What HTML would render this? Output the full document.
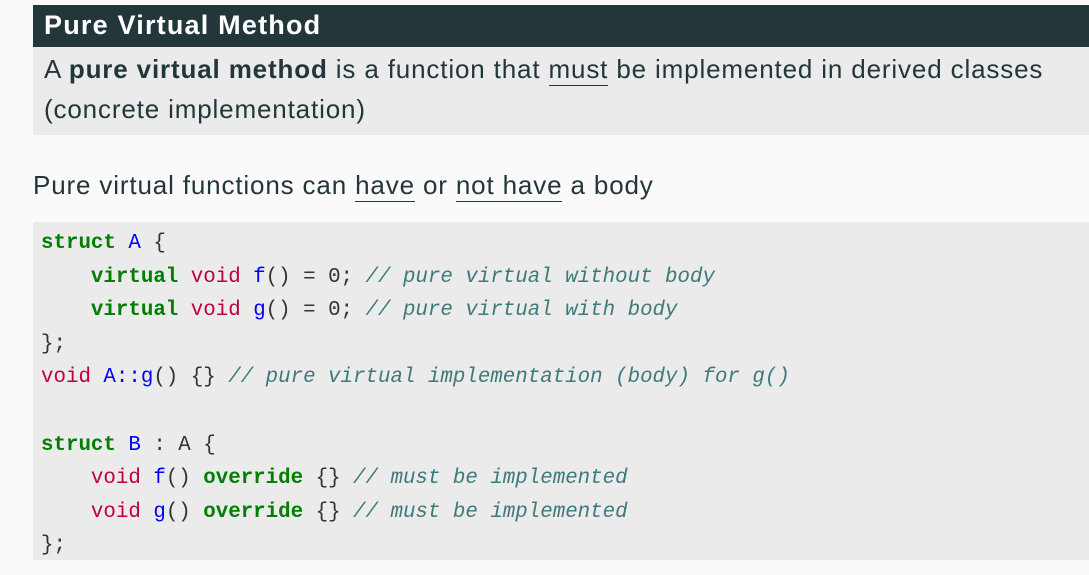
<!DOCTYPE html>
<html><head><meta charset="utf-8"><style>
body{margin:0;width:1089px;height:575px;background:#fafafa;position:relative;overflow:hidden;font-family:"Liberation Sans",sans-serif;color:#23373b}
.hd{position:absolute;left:33px;top:5px;width:1056px;height:42px;background:#23373b;color:#fff;font-size:27px;line-height:40px;text-indent:11px;letter-spacing:1.2px;font-weight:bold}
.bx{position:absolute;left:33px;top:47px;width:1056px;height:88px;background:#ebebeb;font-size:26px;line-height:40px;padding-left:11px;box-sizing:border-box;padding-top:2px;letter-spacing:0.85px;white-space:nowrap}
.p{position:absolute;left:33px;top:170px;font-size:26px;letter-spacing:0.85px}
u{text-decoration:none;border-bottom:1.5px solid #23373b;padding-bottom:1px}
.code{position:absolute;left:33px;top:222px;width:1056px;height:338px;background:#ebebeb}
pre{margin:0;position:absolute;left:8px;top:5px;font-family:"Liberation Mono",monospace;font-size:20.8px;line-height:33.6px;color:#333}
.k{color:#007f00;font-weight:bold}.t{color:#c0003a}.n{color:#0000ff}.c{color:#3e7a7a;font-style:italic}
</style></head><body>
<div class="hd">Pure Virtual Method</div>
<div class="bx">A <b>pure virtual method</b> is a function that <u>must</u> be implemented in derived classes<br>(concrete implementation)</div>
<div class="p">Pure virtual functions can <u>have</u> or <u>not have</u> a body</div>
<div class="code"><pre><span class="k">struct</span> <span class="n">A</span> {
    <span class="k">virtual</span> <span class="t">void</span> <span class="n">f</span>() = 0; <span class="c">// pure virtual without body</span>
    <span class="k">virtual</span> <span class="t">void</span> <span class="n">g</span>() = 0; <span class="c">// pure virtual with body</span>
};
<span class="t">void</span> <span class="n">A::g</span>() {} <span class="c">// pure virtual implementation (body) for g()</span>

<span class="k">struct</span> <span class="n">B</span> : A {
    <span class="t">void</span> <span class="n">f</span>() <span class="k">override</span> {} <span class="c">// must be implemented</span>
    <span class="t">void</span> <span class="n">g</span>() <span class="k">override</span> {} <span class="c">// must be implemented</span>
};</pre></div>
</body></html>
